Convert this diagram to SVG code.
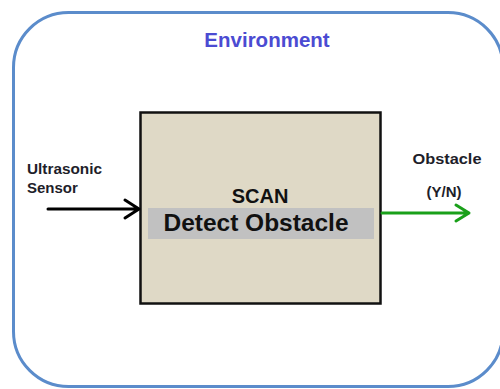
<svg xmlns="http://www.w3.org/2000/svg" width="500" height="389" viewBox="0 0 500 389">
<style>
text{font-family:"Liberation Sans",Arial,sans-serif;font-weight:bold}
.lbl{font-size:15px;fill:#1e1e2a}
</style>
<rect width="500" height="389" fill="#fff"/>
<g id="environment">
<rect x="13.5" y="12.5" width="489.5" height="374" rx="55" ry="55" fill="none" stroke="#5b8ccb" stroke-width="3"/>
<text x="267" y="47" font-size="20.5" fill="#4b4bd2" text-anchor="middle">Environment</text>
</g>
<g id="scan">
<rect x="140.5" y="112.5" width="240" height="191" fill="#dfd9c6" stroke="#111" stroke-width="2.5"/>
<rect x="148" y="208" width="226" height="31" fill="#c1c1c1"/>
<text x="260" y="203" font-size="20" fill="#111" text-anchor="middle">SCAN</text>
<text x="256" y="231" font-size="23" fill="#111" text-anchor="middle" textLength="185" lengthAdjust="spacingAndGlyphs">Detect Obstacle</text>
</g>
<g id="input">
<text class="lbl" x="27" y="174" textLength="75" lengthAdjust="spacingAndGlyphs">Ultrasonic</text>
<text class="lbl" x="27" y="193">Sensor</text>
</g>
<g id="output">
<text class="lbl" x="447" y="164" text-anchor="middle" textLength="69" lengthAdjust="spacingAndGlyphs">Obstacle</text>
<text class="lbl" x="444" y="197" text-anchor="middle">(Y/N)</text>
</g>
<g id="connectors" fill="none" stroke-width="3" stroke-linecap="round" stroke-linejoin="round">
<path d="M48 209H139M125 200L139 209L125 218" stroke="#000"/>
<path d="M382 213H469M456 205L469 213L456 221" stroke="#1aa01a"/>
</g>
</svg>
